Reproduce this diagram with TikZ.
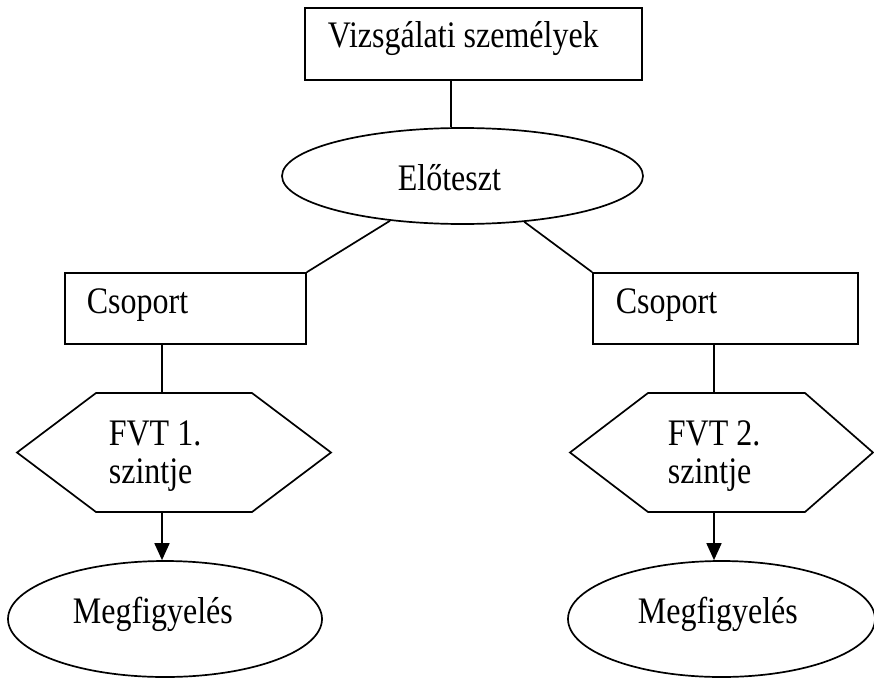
\documentclass[tikz,border=0pt]{standalone}
\usepackage{fontspec}
\setmainfont{Liberation Serif}
\usetikzlibrary{arrows.meta,shapes.geometric}
\newcommand{\tall}[1]{\scalebox{1}[1.17]{#1}}
\begin{document}
\begin{tikzpicture}[x=1pt,y=-1pt, line width=1.7pt,
  lbl/.style={anchor=base west, inner sep=0pt, font=\fontsize{32}{38}\selectfont},
  boxnode/.style={draw, rectangle, inner sep=0pt},
  ellnode/.style={draw, ellipse, inner sep=0pt},
  conn/.style={draw},
  arr/.style={draw, -{Triangle[length=17pt,width=15pt]}}]
\useasboundingbox (0,0) rectangle (874,677);

% top box and pretest
\node[boxnode, minimum width=337pt, minimum height=72pt] (top) at (473.5,44) {};
\node[lbl] (ttop) at (327,48) {\tall{Vizsgálati személyek}};
\node[ellnode, minimum width=361pt, minimum height=96pt] (pre) at (462.5,176) {};
\node[lbl] (tpre) at (397,190) {\tall{Előteszt}};

% groups
\node[boxnode, minimum width=241pt, minimum height=71pt] (lbox) at (185.5,308.5) {};
\node[lbl] (tl) at (86,313) {\tall{Csoport}};
\node[boxnode, minimum width=265pt, minimum height=71pt] (rbox) at (725.5,308.5) {};
\node[lbl] (tr) at (615,313) {\tall{Csoport}};

% hexagons
\coordinate (h1a) at (17,452.5);  \coordinate (h1b) at (96,393);
\coordinate (h1c) at (252,393);   \coordinate (h1d) at (331,452.5);
\coordinate (h1e) at (252,512);   \coordinate (h1f) at (96,512);
\draw (h1a) -- (h1b) -- (h1c) -- (h1d) -- (h1e) -- (h1f) -- cycle;
\coordinate (h2a) at (570,452.5); \coordinate (h2b) at (648,393);
\coordinate (h2c) at (805,393);   \coordinate (h2d) at (873,452.5);
\coordinate (h2e) at (805,512);   \coordinate (h2f) at (648,512);
\draw (h2a) -- (h2b) -- (h2c) -- (h2d) -- (h2e) -- (h2f) -- cycle;
\node[lbl] (t1a) at (108,445) {\tall{FVT 1.}};
\node[lbl] (t1b) at (108,483) {\tall{szintje}};
\node[lbl] (t2a) at (667,445) {\tall{FVT 2.}};
\node[lbl] (t2b) at (667,483) {\tall{szintje}};

% observation ellipses
\node[ellnode, minimum width=314pt, minimum height=116pt] (lobs) at (165,619) {};
\node[lbl] (tlo) at (72,623) {\tall{Megfigyelés}};
\node[ellnode, minimum width=307pt, minimum height=116pt] (robs) at (721.5,619) {};
\node[lbl] (tro) at (637,623) {\tall{Megfigyelés}};

% connector helper coordinates
\coordinate (xtop) at (451,0);
\coordinate (h1top) at (162,393);
\coordinate (h1bot) at (162,512);
\coordinate (h2top) at (714,393);
\coordinate (h2bot) at (714,512);

% connectors
\path[conn] (top.south -| xtop) -- (pre.north -| xtop);
\path[conn] (lbox.north east) -- (pre);
\path[conn] (rbox.north west) -- (pre);
\path[conn] (lbox.south -| h1top) -- (h1top);
\path[conn] (rbox.south -| h2top) -- (h2top);
\path[arr] (h1bot) -- (lobs.north -| h1bot);
\path[arr] (h2bot) -- (robs.north -| h2bot);
\end{tikzpicture}
\end{document}
